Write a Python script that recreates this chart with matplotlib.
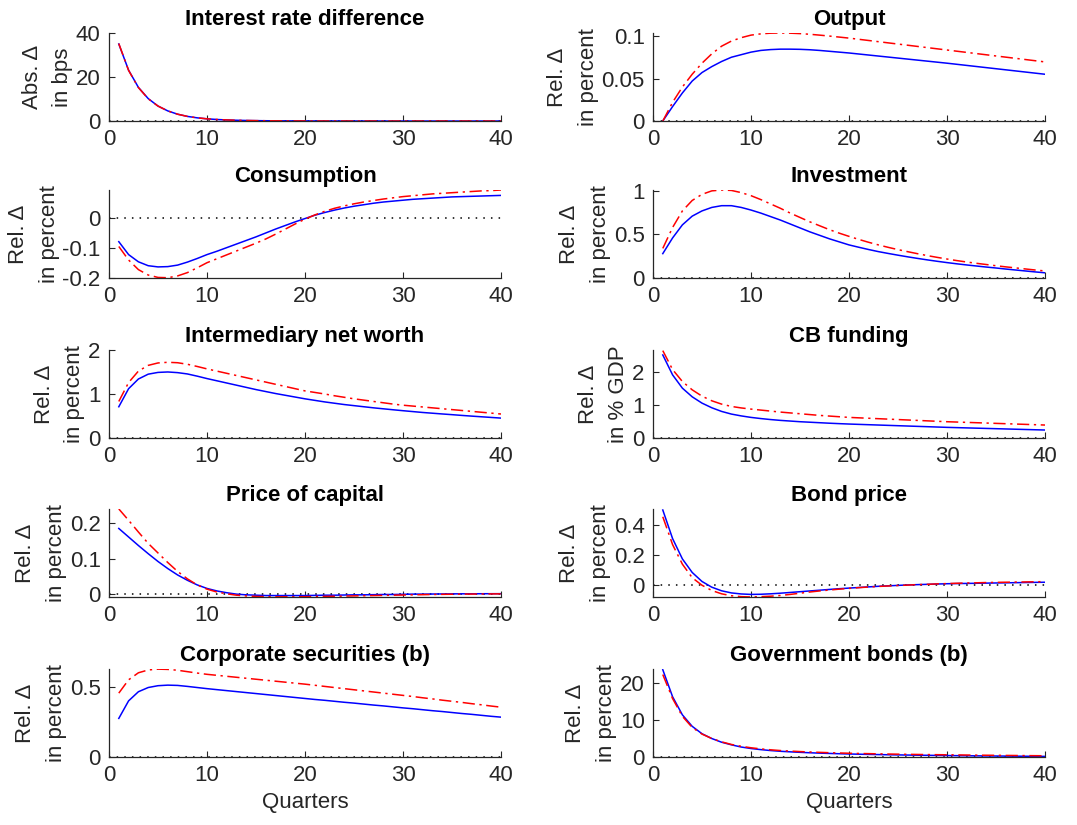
import numpy as np
import matplotlib
matplotlib.use('Agg')
import matplotlib.pyplot as plt
from matplotlib.ticker import FuncFormatter

plt.rcParams['font.family'] = ['Liberation Sans', 'DejaVu Sans']
plt.rcParams['axes.unicode_minus'] = False

t = np.arange(1, 41)

# impulse responses: blue = baseline, red = alternative
interest_b = [35.0, 23.1, 15.3, 10.2, 6.8, 4.6, 3.1, 2.1, 1.45, 1.0,
              0.70, 0.49, 0.35, 0.25, 0.18, 0.13, 0.09, 0.07, 0.05, 0.04,
              0.03, 0.02, 0.02, 0.01, 0.01, 0.01, 0.0, 0.0, 0.0, 0.0,
              0.0, 0.0, 0.0, 0.0, 0.0, 0.0, 0.0, 0.0, 0.0, 0.0]
interest_r = [35.2, 23.0, 15.2, 10.1, 6.8, 4.6, 3.1, 2.1, 1.45, 1.0,
              0.70, 0.49, 0.35, 0.25, 0.18, 0.13, 0.09, 0.07, 0.05, 0.04,
              0.03, 0.02, 0.02, 0.01, 0.01, 0.01, 0.01, 0.0, 0.0, 0.0,
              0.0, 0.0, 0.0, 0.0, 0.0, 0.0, 0.0, 0.0, 0.0, 0.0]

output_b = [0.0, 0.017, 0.033, 0.047, 0.057, 0.064, 0.070, 0.075, 0.078, 0.081,
            0.083, 0.084, 0.0845, 0.0845, 0.0843, 0.0838, 0.0830, 0.0820, 0.0810, 0.0800,
            0.0788, 0.0776, 0.0764, 0.0752, 0.0740, 0.0728, 0.0716, 0.0704, 0.0692, 0.0680,
            0.0667, 0.0654, 0.0641, 0.0628, 0.0615, 0.0602, 0.0589, 0.0576, 0.0563, 0.0550]
output_r = [0.0, 0.022, 0.040, 0.055, 0.068, 0.079, 0.088, 0.094, 0.098, 0.101,
            0.1025, 0.1033, 0.1035, 0.1033, 0.1028, 0.1020, 0.1010, 0.0999, 0.0987, 0.0975,
            0.0961, 0.0947, 0.0933, 0.0919, 0.0905, 0.0891, 0.0877, 0.0863, 0.0849, 0.0835,
            0.0821, 0.0807, 0.0793, 0.0779, 0.0765, 0.0751, 0.0737, 0.0723, 0.0709, 0.0695]

cons_b = [-0.079, -0.122, -0.146, -0.159, -0.163, -0.162, -0.157, -0.147, -0.135, -0.122,
          -0.111, -0.099, -0.087, -0.075, -0.063, -0.050, -0.037, -0.025, -0.013, -0.002,
          0.009, 0.018, 0.026, 0.033, 0.039, 0.044, 0.049, 0.053, 0.056, 0.059,
          0.062, 0.064, 0.066, 0.068, 0.070, 0.071, 0.072, 0.073, 0.074, 0.075]
cons_r = [-0.095, -0.140, -0.172, -0.190, -0.198, -0.199, -0.193, -0.182, -0.166, -0.149,
          -0.136, -0.123, -0.110, -0.097, -0.084, -0.070, -0.054, -0.037, -0.020, -0.004,
          0.010, 0.022, 0.032, 0.040, 0.047, 0.053, 0.058, 0.063, 0.067, 0.071,
          0.074, 0.077, 0.080, 0.082, 0.084, 0.086, 0.088, 0.090, 0.091, 0.093]

invest_b = [0.28, 0.46, 0.61, 0.71, 0.77, 0.81, 0.83, 0.83, 0.81, 0.78,
            0.745, 0.705, 0.665, 0.62, 0.575, 0.53, 0.49, 0.45, 0.415, 0.38,
            0.353, 0.327, 0.303, 0.282, 0.262, 0.243, 0.225, 0.208, 0.192, 0.177,
            0.163, 0.150, 0.138, 0.126, 0.115, 0.103, 0.092, 0.081, 0.070, 0.060]
invest_r = [0.34, 0.58, 0.77, 0.89, 0.96, 1.00, 1.01, 1.005, 0.98, 0.945,
            0.90, 0.85, 0.80, 0.745, 0.695, 0.645, 0.60, 0.555, 0.515, 0.478,
            0.443, 0.41, 0.38, 0.352, 0.326, 0.302, 0.279, 0.257, 0.237, 0.218,
            0.200, 0.184, 0.169, 0.155, 0.141, 0.128, 0.116, 0.104, 0.092, 0.081]

networth_b = [0.71, 1.12, 1.34, 1.45, 1.49, 1.50, 1.485, 1.455, 1.405, 1.35,
              1.30, 1.25, 1.20, 1.15, 1.10, 1.055, 1.01, 0.97, 0.93, 0.89,
              0.855, 0.82, 0.79, 0.76, 0.735, 0.71, 0.685, 0.663, 0.641, 0.62,
              0.60, 0.58, 0.563, 0.546, 0.53, 0.513, 0.497, 0.482, 0.467, 0.452]
networth_r = [0.83, 1.26, 1.52, 1.65, 1.705, 1.72, 1.71, 1.675, 1.625, 1.57,
              1.52, 1.47, 1.42, 1.37, 1.32, 1.27, 1.22, 1.17, 1.12, 1.07,
              1.035, 1.00, 0.96, 0.925, 0.89, 0.86, 0.83, 0.80, 0.77, 0.745,
              0.725, 0.705, 0.685, 0.665, 0.645, 0.625, 0.605, 0.585, 0.565, 0.545]

cbfund_b = [2.50, 1.90, 1.50, 1.24, 1.05, 0.91, 0.80, 0.72, 0.665, 0.62,
            0.585, 0.555, 0.53, 0.51, 0.49, 0.475, 0.46, 0.445, 0.432, 0.42,
            0.41, 0.40, 0.39, 0.38, 0.37, 0.36, 0.35, 0.34, 0.33, 0.32,
            0.312, 0.304, 0.296, 0.288, 0.28, 0.272, 0.264, 0.256, 0.248, 0.24]
cbfund_r = [2.63, 2.06, 1.70, 1.45, 1.26, 1.12, 1.02, 0.95, 0.905, 0.87,
            0.84, 0.81, 0.78, 0.755, 0.73, 0.705, 0.68, 0.66, 0.64, 0.62,
            0.607, 0.594, 0.581, 0.568, 0.555, 0.542, 0.529, 0.516, 0.503, 0.49,
            0.48, 0.47, 0.46, 0.45, 0.44, 0.43, 0.42, 0.41, 0.40, 0.39]

pcap_b = [0.185, 0.161, 0.137, 0.114, 0.092, 0.072, 0.054, 0.039, 0.026, 0.016,
          0.009, 0.004, 0.000, -0.002, -0.003, -0.004, -0.004, -0.004, -0.004, -0.004,
          -0.0035, -0.003, -0.003, -0.0025, -0.002, -0.002, -0.0015, -0.001, -0.001, -0.0005,
          0.0, 0.0, 0.0003, 0.0005, 0.0007, 0.0009, 0.001, 0.0011, 0.0012, 0.0013]
pcap_r = [0.240, 0.208, 0.175, 0.143, 0.116, 0.089, 0.064, 0.043, 0.026, 0.014,
          0.006, 0.001, -0.003, -0.005, -0.0065, -0.0072, -0.0075, -0.0076, -0.0075, -0.0072,
          -0.0068, -0.0064, -0.006, -0.0055, -0.005, -0.0045, -0.004, -0.0035, -0.003, -0.0025,
          -0.002, -0.0015, -0.001, -0.0006, -0.0003, 0.0, 0.0002, 0.0004, 0.0006, 0.0008]

bond_b = [0.50, 0.31, 0.175, 0.085, 0.025, -0.013, -0.037, -0.051, -0.058, -0.061,
          -0.060, -0.057, -0.053, -0.048, -0.043, -0.038, -0.033, -0.028, -0.023, -0.019,
          -0.015, -0.011, -0.007, -0.004, -0.001, 0.002, 0.004, 0.006, 0.008, 0.010,
          0.011, 0.012, 0.013, 0.014, 0.015, 0.016, 0.017, 0.018, 0.019, 0.020]
bond_r = [0.455, 0.27, 0.14, 0.05, 0.0, -0.035, -0.057, -0.070, -0.076, -0.078,
          -0.076, -0.073, -0.068, -0.061, -0.053, -0.045, -0.038, -0.032, -0.026, -0.021,
          -0.016, -0.012, -0.008, -0.005, -0.002, 0.001, 0.004, 0.006, 0.009, 0.011,
          0.013, 0.015, 0.016, 0.018, 0.019, 0.020, 0.021, 0.022, 0.023, 0.024]

corp_b = [0.275, 0.40, 0.465, 0.495, 0.508, 0.512, 0.510, 0.503, 0.495, 0.487,
          0.480, 0.473, 0.466, 0.459, 0.452, 0.445, 0.438, 0.431, 0.424, 0.417,
          0.410, 0.404, 0.397, 0.390, 0.384, 0.377, 0.370, 0.364, 0.357, 0.350,
          0.344, 0.337, 0.330, 0.324, 0.317, 0.310, 0.304, 0.297, 0.290, 0.284]
corp_r = [0.455, 0.55, 0.60, 0.62, 0.626, 0.624, 0.618, 0.608, 0.598, 0.589,
          0.582, 0.575, 0.568, 0.561, 0.554, 0.547, 0.540, 0.533, 0.526, 0.519,
          0.511, 0.503, 0.495, 0.487, 0.479, 0.471, 0.463, 0.455, 0.447, 0.439,
          0.431, 0.422, 0.414, 0.405, 0.397, 0.389, 0.380, 0.372, 0.363, 0.355]

govb_b = [23.6, 16.3, 11.4, 8.3, 6.3, 5.0, 4.0, 3.3, 2.7, 2.3,
          2.0, 1.75, 1.55, 1.4, 1.27, 1.15, 1.05, 0.97, 0.89, 0.82,
          0.76, 0.71, 0.66, 0.61, 0.57, 0.53, 0.49, 0.46, 0.43, 0.40,
          0.37, 0.34, 0.32, 0.29, 0.27, 0.25, 0.23, 0.21, 0.19, 0.17]
govb_r = [22.3, 15.8, 11.0, 8.0, 6.2, 5.0, 4.1, 3.4, 2.9, 2.5,
          2.2, 1.95, 1.75, 1.6, 1.47, 1.36, 1.26, 1.17, 1.09, 1.02,
          0.96, 0.91, 0.86, 0.81, 0.77, 0.73, 0.69, 0.66, 0.63, 0.60,
          0.57, 0.54, 0.51, 0.48, 0.46, 0.43, 0.41, 0.38, 0.36, 0.34]

rel = 'Rel. \u0394\nin percent'
panels = [
    ('Interest rate difference', 'Abs. \u0394\nin bps', interest_b, interest_r, (0, 40), [0, 20, 40]),
    ('Output', rel, output_b, output_r, (0, 0.1035), [0, 0.05, 0.1]),
    ('Consumption', rel, cons_b, cons_r, (-0.2, 0.093), [-0.2, -0.1, 0]),
    ('Investment', rel, invest_b, invest_r, (0, 1.01), [0, 0.5, 1]),
    ('Intermediary net worth', rel, networth_b, networth_r, (0, 2), [0, 1, 2]),
    ('CB funding', 'Rel. \u0394\nin % GDP', cbfund_b, cbfund_r, (0, 2.65), [0, 1, 2]),
    ('Price of capital', rel, pcap_b, pcap_r, (-0.008, 0.24), [0, 0.1, 0.2]),
    ('Bond price', rel, bond_b, bond_r, (-0.078, 0.507), [0, 0.2, 0.4]),
    ('Corporate securities (b)', rel, corp_b, corp_r, (0, 0.627), [0, 0.5]),
    ('Government bonds (b)', rel, govb_b, govb_r, (0, 23.8), [0, 10, 20]),
]

fig = plt.figure(figsize=(10.77, 8.25), dpi=100)
lefts = [0.1012, 0.6063]
bottoms = [0.8533, 0.6630, 0.4691, 0.2764, 0.0824]
w, h = 0.364, 0.1067
grey = '#262626'
fs = 16

for i, (title, ylab, yb, yr, ylim, yt) in enumerate(panels):
    row, col = divmod(i, 2)
    ax = fig.add_axes([lefts[col], bottoms[row], w, h])
    ax.plot([0, 40], [0, 0], color='k', lw=1.1, linestyle=(0, (1, 4)))
    ax.plot(t, yb, color='b', lw=1.1)
    ax.plot(t, yr, color='r', lw=1.1, linestyle=(0, (8, 3, 1.5, 3)))
    ax.set_xlim(0, 40)
    ax.set_ylim(*ylim)
    ax.set_xticks([0, 10, 20, 30, 40])
    ax.set_yticks(yt)
    ax.yaxis.set_major_formatter(FuncFormatter(lambda v, p: '%g' % v))
    ax.spines['top'].set_visible(False)
    ax.spines['right'].set_visible(False)
    for s in ('left', 'bottom'):
        ax.spines[s].set_color(grey)
        ax.spines[s].set_linewidth(0.9)
    ax.tick_params(direction='in', length=4, width=0.8, colors=grey,
                   labelsize=fs, pad=6)
    ax.set_title(title, fontsize=fs, fontweight='bold', pad=6)
    ax.set_ylabel(ylab, fontsize=fs, color=grey, linespacing=1.6, labelpad=2)
    if row == 4:
        ax.set_xlabel('Quarters', fontsize=fs, color=grey, labelpad=4)

plt.savefig('out.png', dpi=100)
